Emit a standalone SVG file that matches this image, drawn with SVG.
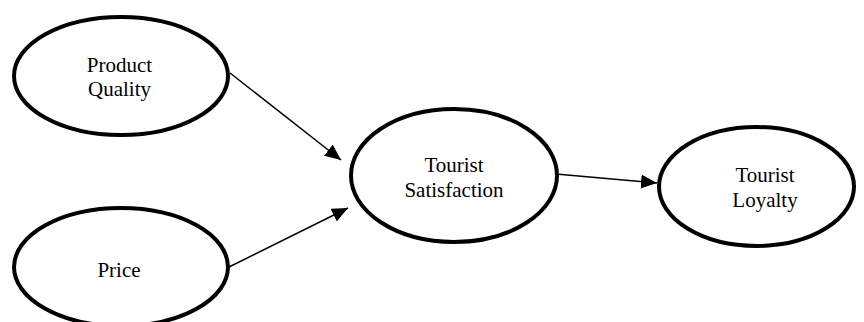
<svg xmlns="http://www.w3.org/2000/svg" width="864" height="322" viewBox="0 0 864 322">
<style>
.node ellipse{fill:#fff;stroke:#000;stroke-width:4}
.node text{font-family:"Liberation Serif","Times New Roman",serif;font-size:21px;fill:#000;text-anchor:middle}
.conn line{stroke:#000;stroke-width:1.5}
</style>
<defs>
<marker id="ah" markerUnits="userSpaceOnUse" markerWidth="17" markerHeight="14" refX="16" refY="7" orient="auto">
<path d="M0,0 L16,7 L0,14 z" fill="#000"/>
</marker>
</defs>
<rect width="864" height="322" fill="#fff"/>
<g class="conn">
<line x1="230" y1="73" x2="341" y2="160" marker-end="url(#ah)"/>
<line x1="229" y1="267" x2="348" y2="208" marker-end="url(#ah)"/>
<line x1="556" y1="174" x2="657" y2="183" marker-end="url(#ah)"/>
</g>
<g class="node" id="product-quality">
<ellipse cx="121" cy="76" rx="107" ry="59"/>
<text x="119.5" y="72">Product</text>
<text x="119.5" y="96">Quality</text>
</g>
<g class="node" id="price">
<ellipse cx="121" cy="267" rx="107" ry="59"/>
<text x="119" y="277">Price</text>
</g>
<g class="node" id="tourist-satisfaction">
<ellipse cx="454" cy="175.5" rx="103" ry="66.5"/>
<text x="454" y="172">Tourist</text>
<text x="454" y="197">Satisfaction</text>
</g>
<g class="node" id="tourist-loyalty">
<ellipse cx="756.5" cy="186.5" rx="97.5" ry="59.5"/>
<text x="765" y="182">Tourist</text>
<text x="765" y="207">Loyalty</text>
</g>
</svg>
